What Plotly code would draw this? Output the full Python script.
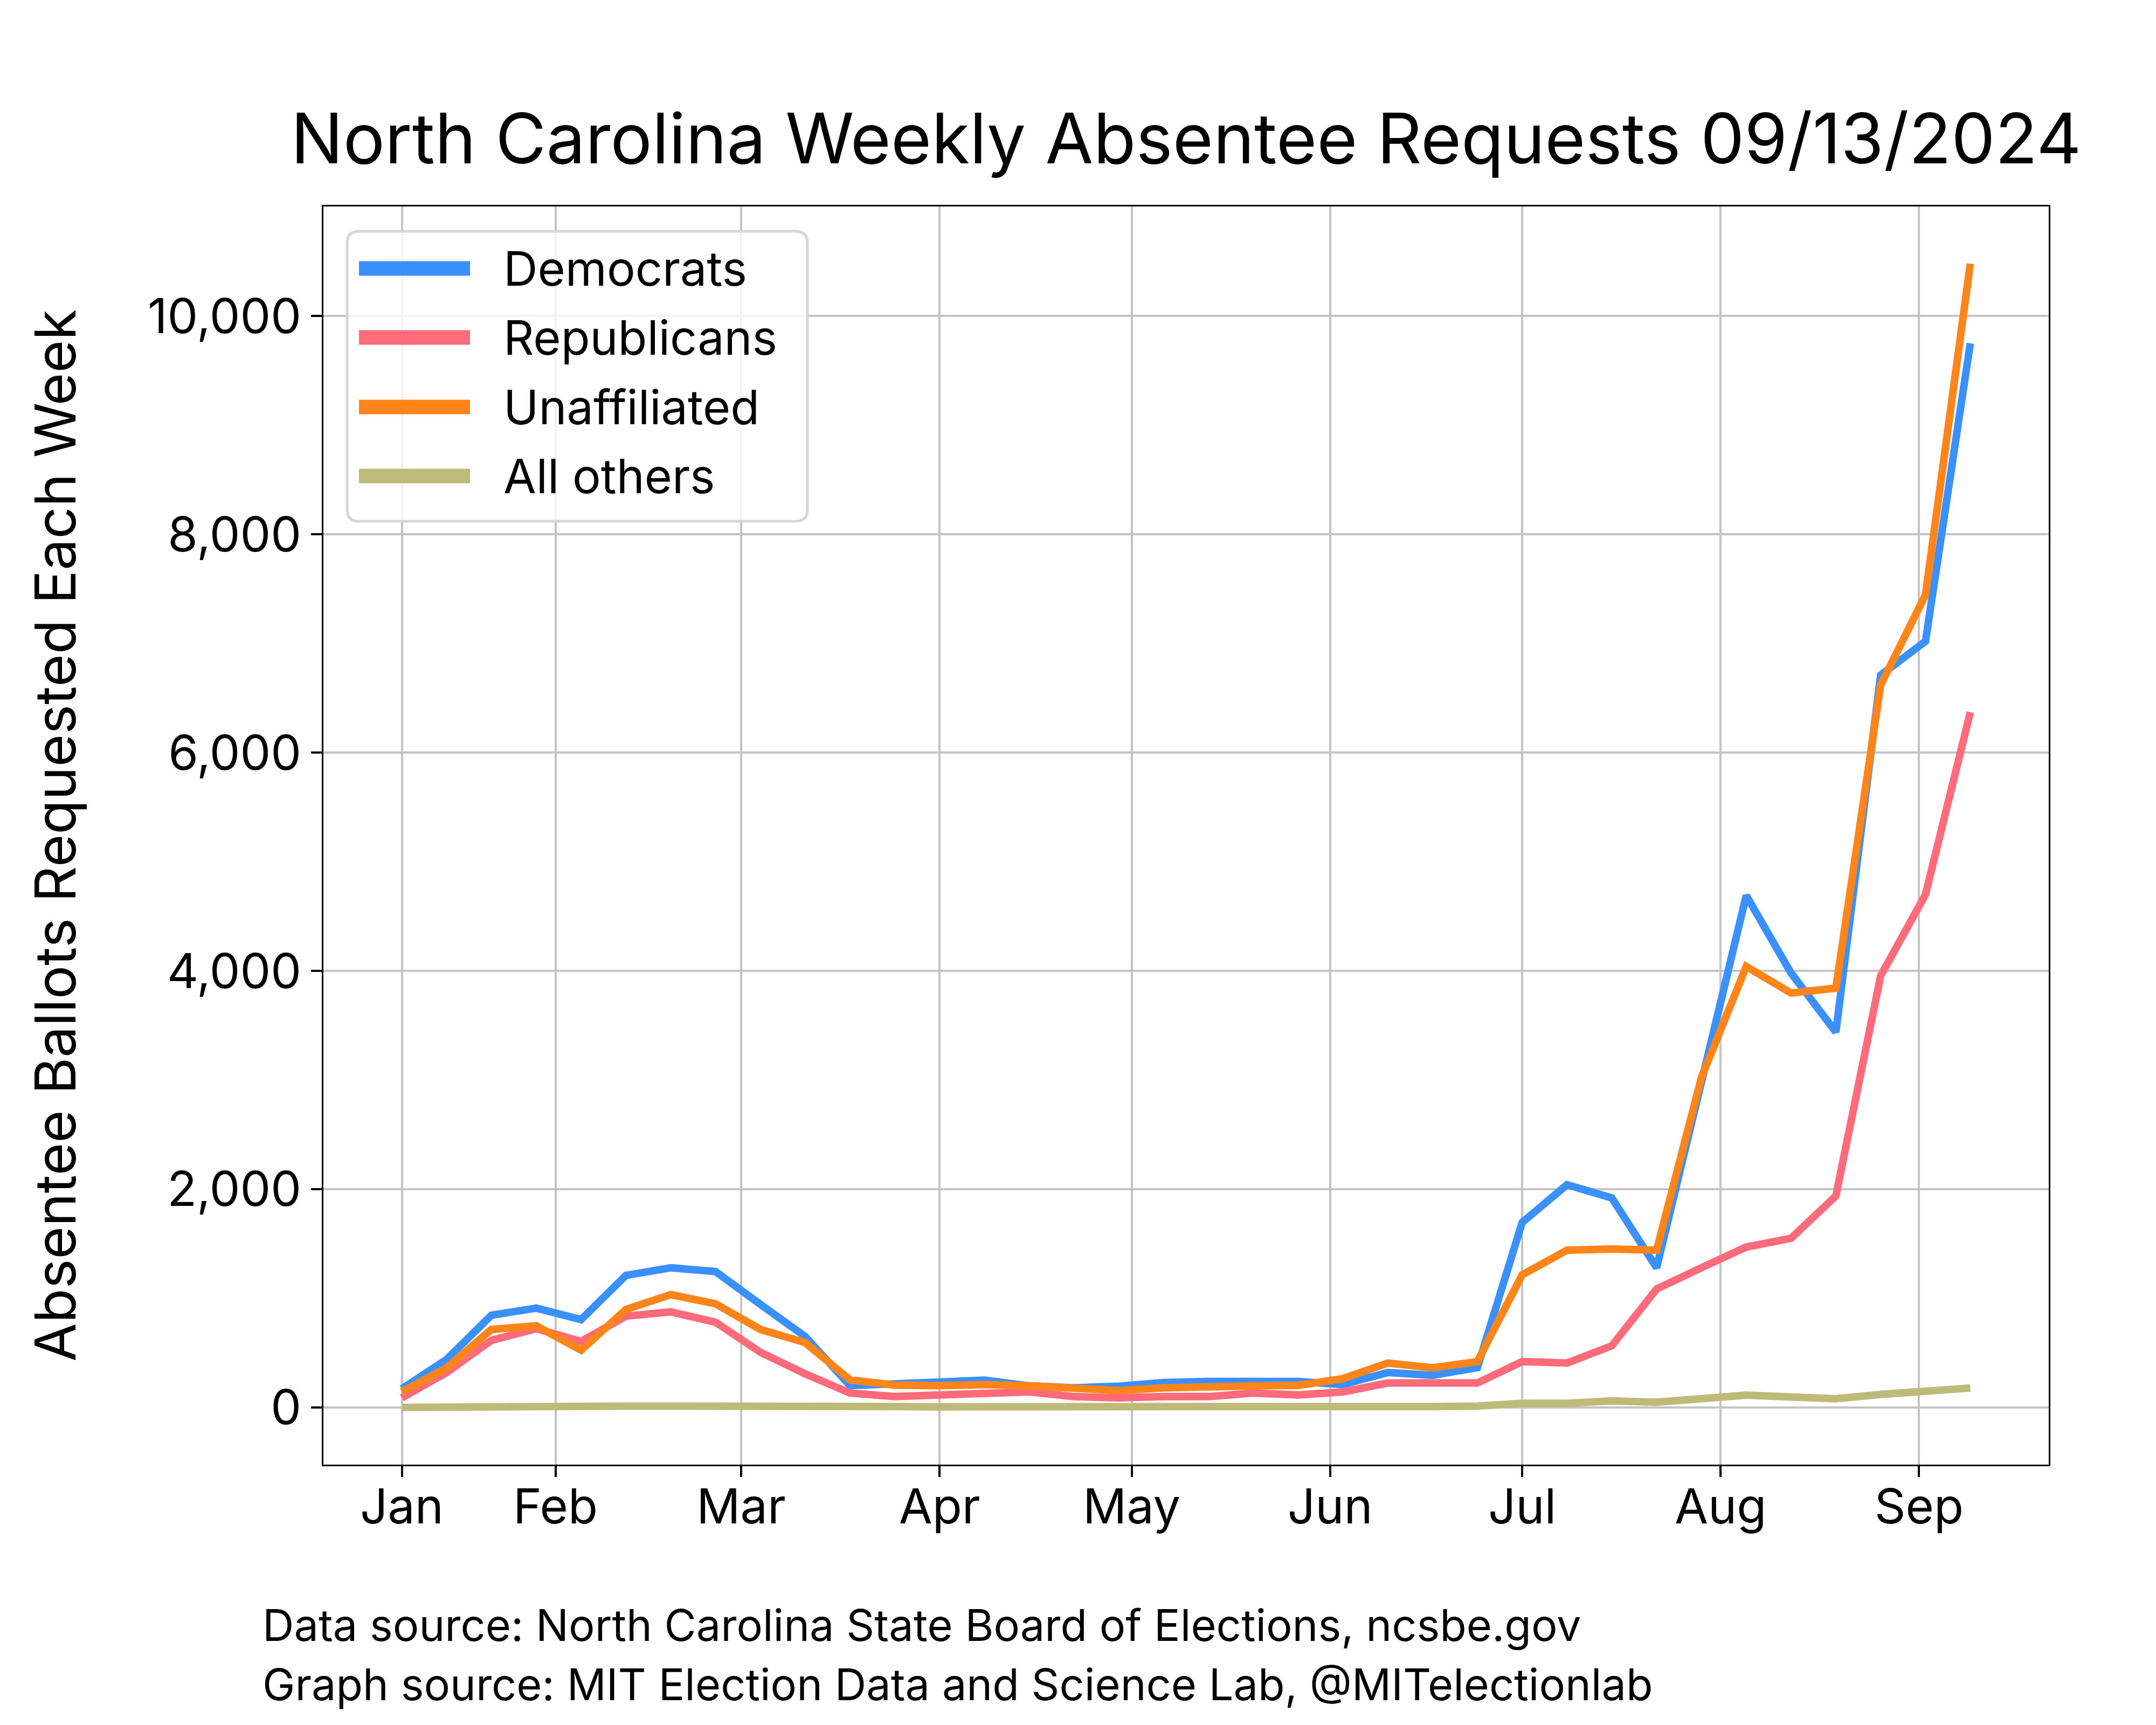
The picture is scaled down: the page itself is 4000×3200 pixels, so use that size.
import pandas as pd
import plotly.graph_objects as go

# Weekly periods (week starting dates)
weeks = pd.date_range("2024-01-08", periods=36, freq="7D")

democrats = [170, 440, 845, 910, 805, 1210, 1280, 1245, 945, 650, 200, 215,
             238, 250, 198, 180, 195, 228, 238, 238, 238, 210, 320, 295,
             365, 1695, 2040, 1920, 1280, 2980, 4690, 3980, 3440, 6710, 7020, 9750]
republicans = [88, 320, 615, 722, 605, 836, 876, 781, 506, 308, 132, 100,
               114, 121, 143, 99, 88, 99, 99, 132, 114, 143, 224, 224,
               224, 420, 407, 565, 1085, 1280, 1470, 1550, 1938, 3955, 4700, 6370]
unaffiliated = [143, 363, 715, 748, 524, 898, 1034, 950, 715, 594, 253, 205,
                200, 209, 198, 172, 154, 180, 194, 198, 202, 264, 407, 363,
                420, 1215, 1441, 1452, 1441, 3023, 4040, 3797, 3842, 6620, 7445, 10480]
all_others = [0, 5, 10, 10, 10, 12, 12, 14, 18, 15, 10, 8,
              5, 8, 10, 5, 8, 8, 8, 8, 5, 10, 12, 8,
              12, 38, 38, 60, 48, 85, 113, 96, 80, 119, 145, 178]

series_names = ["Democrats", "Republicans", "Unaffiliated", "All others"]
series_values = [democrats, republicans, unaffiliated, all_others]
series_colors = ["#3A91FE", "#FF6B7B", "#FF851B", "#BFBA7A"]

tick_dates = ["2024-01-08", "2024-02-01", "2024-03-01", "2024-04-01", "2024-05-01",
              "2024-06-01", "2024-07-01", "2024-08-01", "2024-09-01"]
tick_labels = ["Jan", "Feb", "Mar", "Apr", "May", "Jun", "Jul", "Aug", "Sep"]
y_ticks = [0, 2000, 4000, 6000, 8000, 10000]

FONT = "Inter"

# plot area in pixels
PL, PR, PT, PB = 600, 3801, 383, 2717


def px_x(px):
    return (px - PL) / (PR - PL)


def px_y(py):
    return (PB - py) / (PB - PT)


fig = go.Figure()
for name, vals, col in zip(series_names, series_values, series_colors):
    fig.add_trace(go.Scatter(x=weeks, y=vals, mode="lines", name=name,
                             line=dict(color=col, width=14), showlegend=False))

fig.update_layout(
    width=4000, height=3200,
    margin=dict(l=PL, r=4000 - PR, t=PT, b=3200 - PB),
    paper_bgcolor="white", plot_bgcolor="white",
    font=dict(family=FONT, color="black", size=80),
    title=dict(text="North Carolina Weekly Absentee Requests 09/13/2024",
               x=0.5, xref="paper", xanchor="center",
               y=1 - 258 / 3200, yref="container", yanchor="middle",
               font=dict(size=129, family=FONT, color="black")),
    showlegend=False,
)

fig.update_xaxes(
    type="date",
    range=["2023-12-26 18:00", "2024-09-21 06:00"],
    tickvals=tick_dates, ticktext=tick_labels,
    showgrid=True, gridcolor="#c4c4c4", gridwidth=4,
    showline=True, linecolor="black", linewidth=3, mirror=True,
    ticks="outside", ticklen=20, tickwidth=4, tickcolor="black",
    tickfont=dict(size=90, family=FONT), zeroline=False,
    ticklabelstandoff=-22,
)
fig.update_yaxes(
    range=[-524, 11004],
    tickvals=y_ticks, tickformat=",d",
    showgrid=True, gridcolor="#c4c4c4", gridwidth=4,
    showline=True, linecolor="black", linewidth=3, mirror=True,
    ticks="outside", ticklen=20, tickwidth=4, tickcolor="black",
    tickfont=dict(size=90, family=FONT), zeroline=False,
)

# Custom legend (thick line samples, rounded box)
bx0, bx1, by0, by1, r = 644, 1498, 429, 967, 22
path = (f"M {px_x(bx0 + r)},{px_y(by0)} L {px_x(bx1 - r)},{px_y(by0)} "
        f"Q {px_x(bx1)},{px_y(by0)} {px_x(bx1)},{px_y(by0 + r)} "
        f"L {px_x(bx1)},{px_y(by1 - r)} "
        f"Q {px_x(bx1)},{px_y(by1)} {px_x(bx1 - r)},{px_y(by1)} "
        f"L {px_x(bx0 + r)},{px_y(by1)} "
        f"Q {px_x(bx0)},{px_y(by1)} {px_x(bx0)},{px_y(by1 - r)} "
        f"L {px_x(bx0)},{px_y(by0 + r)} "
        f"Q {px_x(bx0)},{px_y(by0)} {px_x(bx0 + r)},{px_y(by0)} Z")
fig.add_shape(type="path", path=path, xref="paper", yref="paper",
              fillcolor="rgba(255,255,255,0.8)", line=dict(color="#d6d6d6", width=5),
              layer="above")
row_y = [498, 626, 755, 883]
for name, col, ry in zip(series_names, series_colors, row_y):
    fig.add_shape(type="line", xref="paper", yref="paper",
                  x0=px_x(666), x1=px_x(872), y0=px_y(ry), y1=px_y(ry),
                  line=dict(color=col, width=27), layer="above")
    fig.add_annotation(text=name, xref="paper", yref="paper",
                       x=px_x(932), y=px_y(ry), xanchor="left", yanchor="middle",
                       showarrow=False, font=dict(size=88, family=FONT))

fig.add_annotation(text="Absentee Ballots Requested Each Week",
                   xref="paper", yref="paper", x=px_x(102), y=0.5,
                   xanchor="center", yanchor="middle", textangle=-90,
                   showarrow=False, font=dict(size=104, family=FONT))
fig.add_annotation(text="Data source: North Carolina State Board of Elections, ncsbe.gov",
                   xref="paper", yref="paper", x=px_x(485), y=px_y(3015),
                   xanchor="left", yanchor="middle", showarrow=False,
                   font=dict(size=81, family=FONT))
fig.add_annotation(text="Graph source: MIT Election Data and Science Lab, @MITelectionlab",
                   xref="paper", yref="paper", x=px_x(485), y=px_y(3125),
                   xanchor="left", yanchor="middle", showarrow=False,
                   font=dict(size=81, family=FONT))

fig.write_html("out.html")
